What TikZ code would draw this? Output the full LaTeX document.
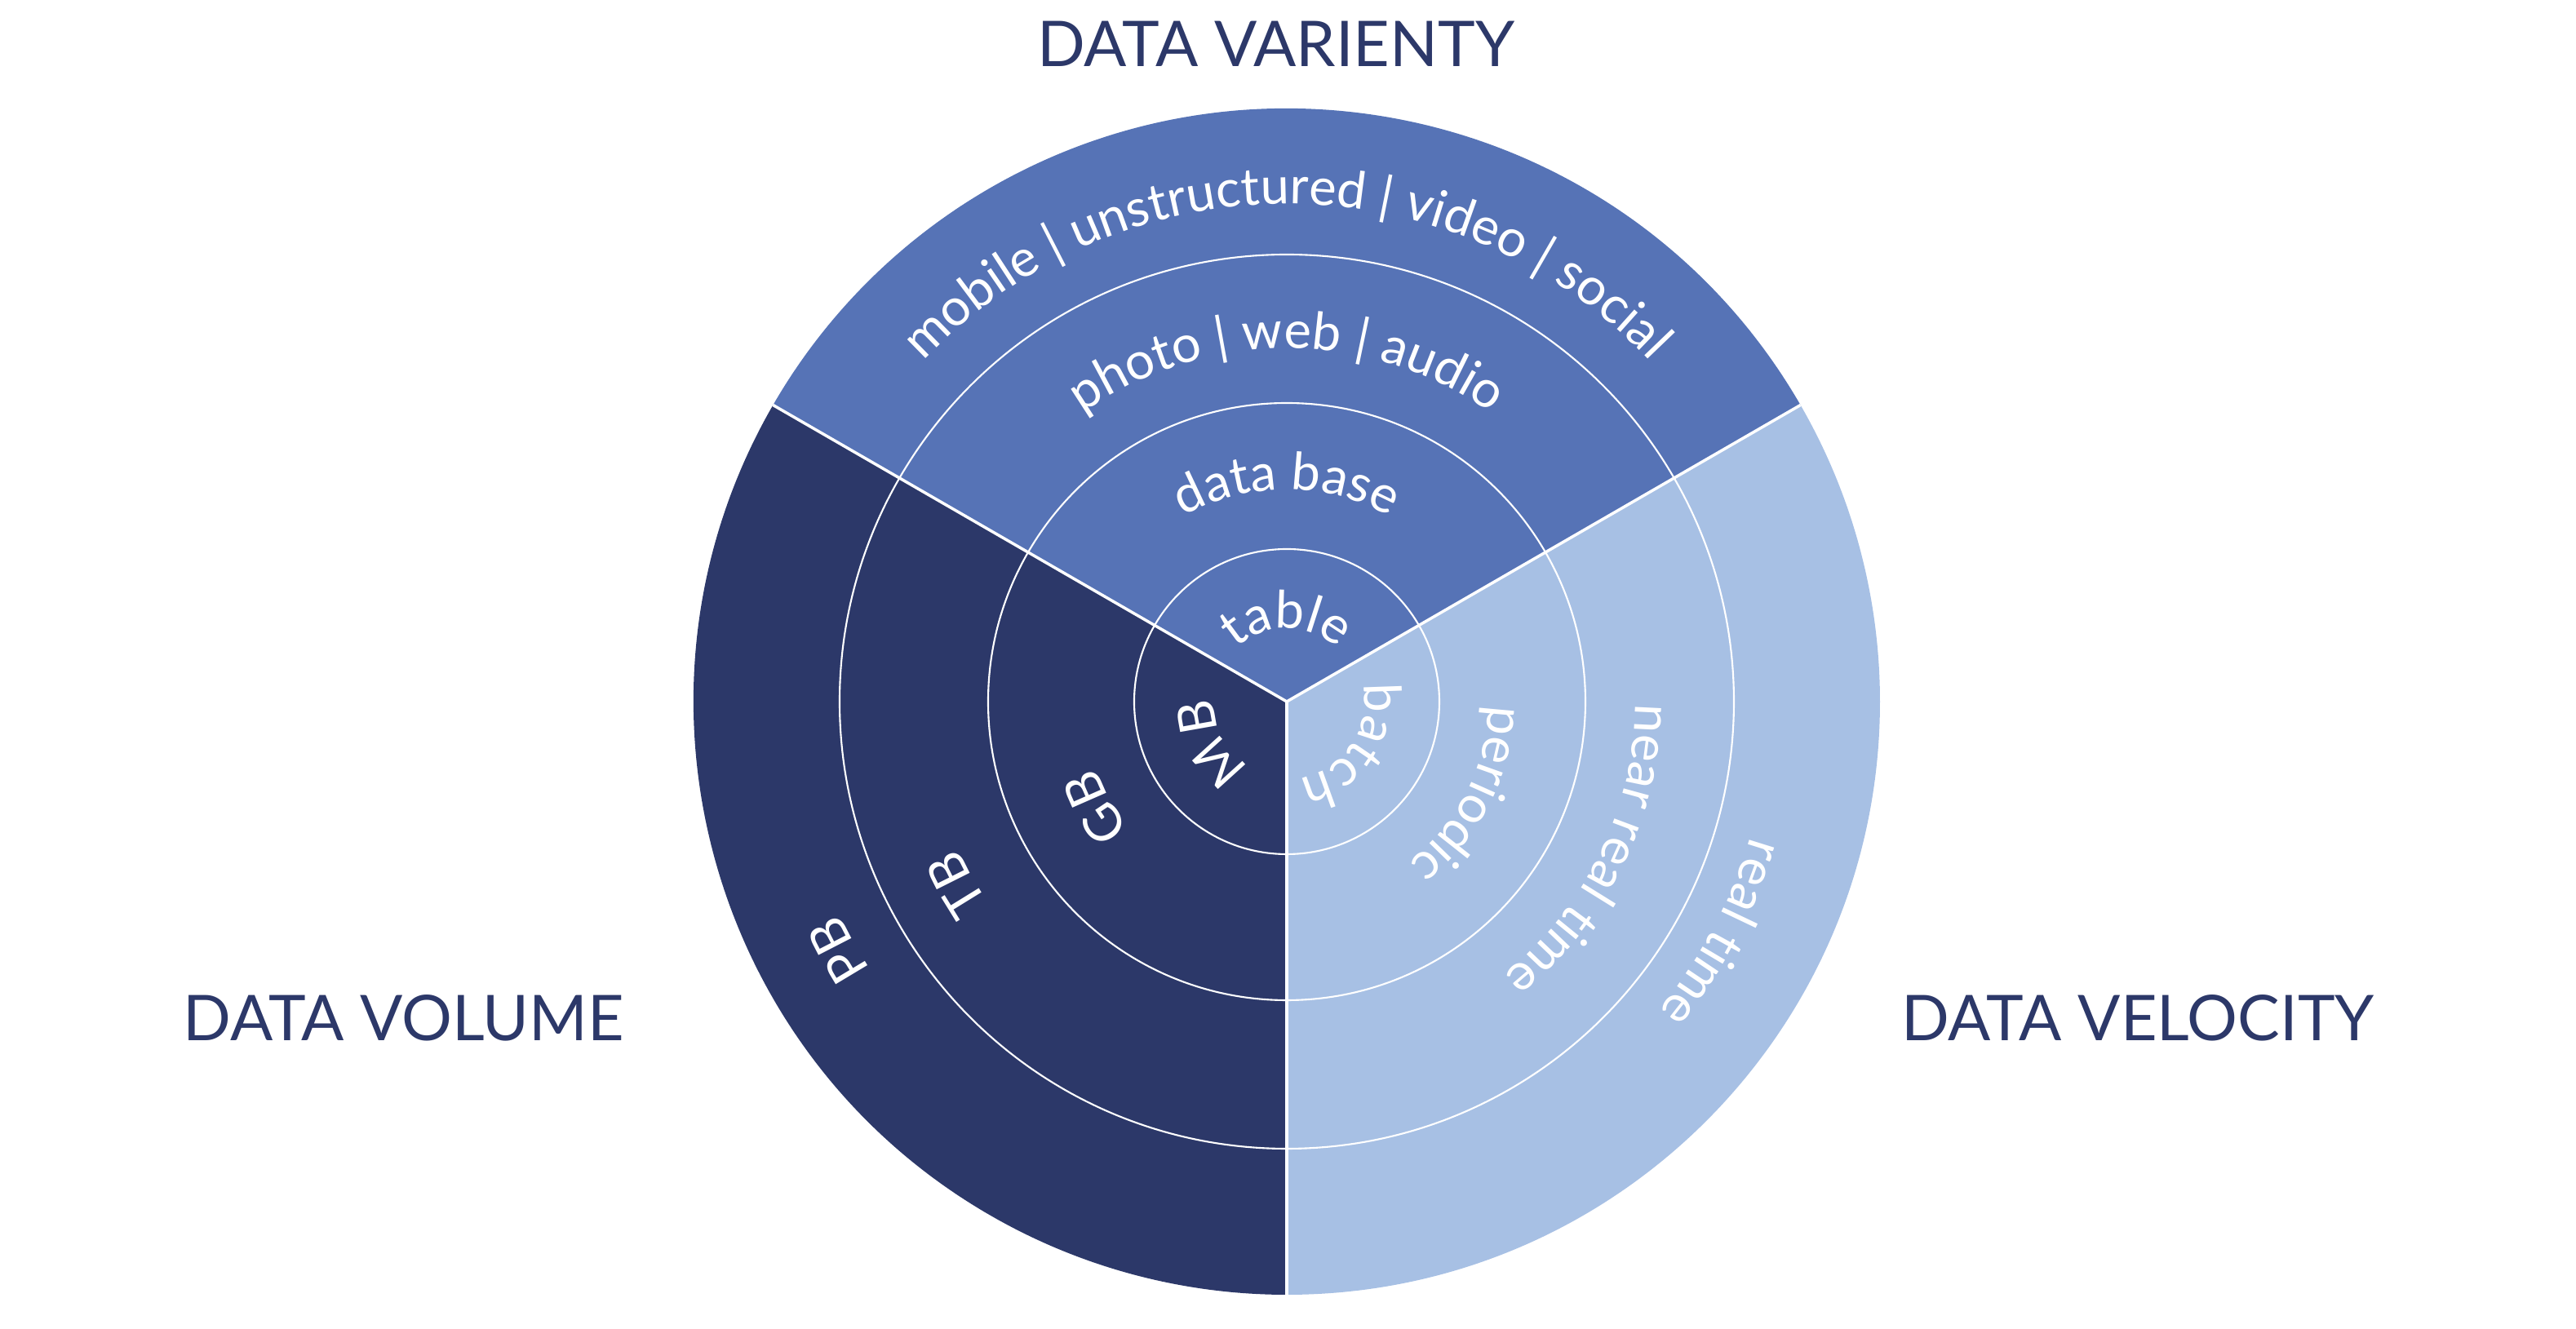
\documentclass[tikz,border=0pt]{standalone}
\usepackage{fontspec}
\setmainfont{Lato}
\usepackage{tikz}
\usetikzlibrary{decorations.text}

\definecolor{varietyblue}{HTML}{5673B6}
\definecolor{volumeblue}{HTML}{2C3869}
\definecolor{velocityblue}{HTML}{A7C0E4}

\newcommand\lblfont{\fontsize{18}{20}\selectfont}

\begin{document}
\begin{tikzpicture}[ring/.style={draw=white, line width=0.6pt},
                    border/.style={draw=white, line width=1pt},
                    title/.style={text=volumeblue, font=\fontsize{22}{26}\selectfont},
                    ringtext/.style={decorate, decoration={text along path,
                      text align=center, text color=white, text={|\lblfont|#1}}}]
  \useasboundingbox (-15.77,-7.69) rectangle (15.80,8.60);

  % the three sectors
  \fill[varietyblue] (0,0) -- (30:7.27) arc[start angle=30, end angle=150, radius=7.27] -- cycle;
  \fill[volumeblue] (0,0) -- (150:7.27) arc[start angle=150, end angle=270, radius=7.27] -- cycle;
  \fill[velocityblue] (0,0) -- (270:7.27) arc[start angle=270, end angle=390, radius=7.27] -- cycle;

  \foreach \r in {1.87,3.66,5.48}
    \draw[ring] (0,0) circle (\r);
  \draw[border] (0,0) -- (30:7.27) (0,0) -- (150:7.27) (0,0) -- (270:7.27);

  % variety
  \path[ringtext={table}] (170:0.9) arc[start angle=170, end angle=10, radius=0.9];
  \path[ringtext={data base}] (150:2.6) arc[start angle=150, end angle=30, radius=2.6];
  \path[ringtext={photo {\textbar} web {\textbar} audio}] (150:4.33) arc[start angle=150, end angle=30, radius=4.33];
  \path[ringtext={mobile {\textbar} unstructured {\textbar} video {\textbar} social}] (165:6.1) arc[start angle=165, end angle=15, radius=6.1];

  % volume
  \path[ringtext={MB}] (269:0.89) arc[start angle=269, end angle=149, radius=0.89];
  \path[ringtext={GB}] (269:2.47) arc[start angle=269, end angle=149, radius=2.47];
  \path[ringtext={TB}] (269:4.41) arc[start angle=269, end angle=149, radius=4.41];
  \path[ringtext={PB}] (269:6.07) arc[start angle=269, end angle=149, radius=6.07];

  % velocity
  \path[ringtext={batch}] (26:0.95) arc[start angle=26, end angle=-94, radius=0.95];
  \path[ringtext={periodic}] (33:2.47) arc[start angle=33, end angle=-87, radius=2.47];
  \path[ringtext={near real time}] (34:4.27) arc[start angle=34, end angle=-86, radius=4.27];
  \path[ringtext={real time}] (32:5.92) arc[start angle=32, end angle=-88, radius=5.92];

  \node[title] (variety) at (-0.13,8.06) {DATA VARIENTY};
  \node[title] (volume) at (-10.82,-3.88) {DATA VOLUME};
  \node[title] (velocity) at (10.43,-3.88) {DATA VELOCITY};
\end{tikzpicture}
\end{document}
